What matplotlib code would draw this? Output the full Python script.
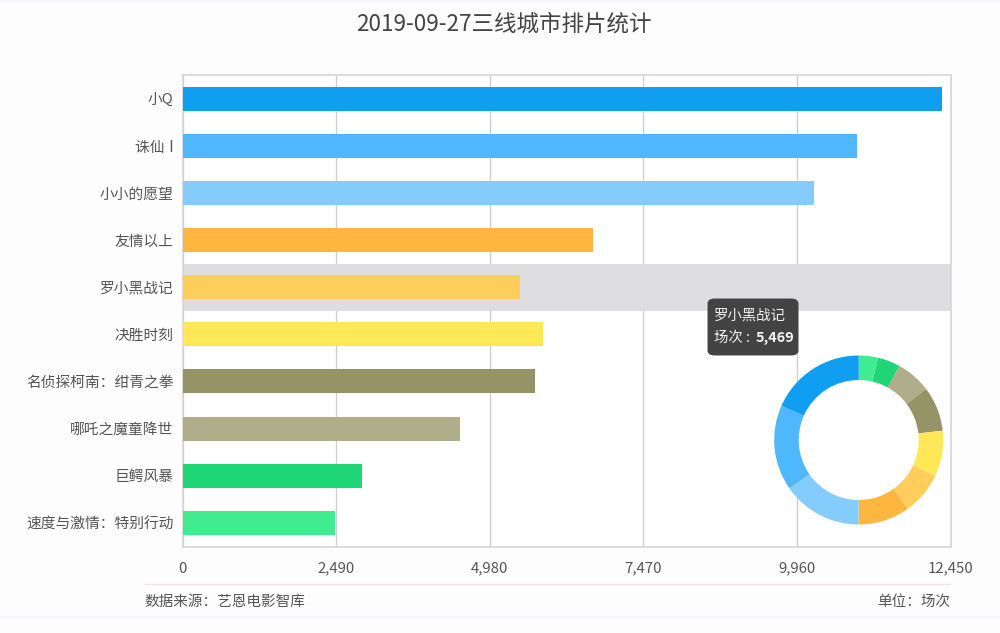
#!/usr/bin/env python3
import matplotlib
matplotlib.use("Agg")
import matplotlib.pyplot as plt
from matplotlib.lines import Line2D
from matplotlib.patches import FancyBboxPatch

plt.rcParams["font.family"] = ["Noto Sans CJK SC", "DejaVu Sans"]

W, H = 1000, 633

movies = ["小Q", "诛仙 Ⅰ", "小小的愿望", "友情以上", "罗小黑战记", "决胜时刻",
          "名侦探柯南：绀青之拳", "哪吒之魔童降世", "巨鳄风暴", "速度与激情：特别行动"]
shows = [12320, 10940, 10243, 6659, 5469, 5840, 5718, 4493, 2912, 2466]
colors = ["#109EF0", "#4FB7FB", "#84CCFB", "#FFB640", "#FFCD5C",
          "#FFE857", "#969366", "#AFAD8A", "#1FD676", "#41EB8F"]
xticks = [0, 2490, 4980, 7470, 9960, 12450]
hover_idx = 4

BG = "#FDFDFE"
TEXT = "#555555"


def fx(px):
    return px / W


def fy(py):
    return 1 - py / H


fig = plt.figure(figsize=(W / 100, H / 100), dpi=100, facecolor=BG)

# page edges
for py in (1, 617):
    fig.add_artist(Line2D([0, 1], [fy(py), fy(py)], color="#F5F5FA", lw=1.2))

ax = fig.add_axes([fx(182.5), fy(546.5), fx(768), (546.5 - 75) / H])
ax.set_facecolor("white")
ax.set_xlim(0, 12450)
ax.set_ylim(len(movies) - 0.5, -0.5)

ax.axhspan(hover_idx - 0.5, hover_idx + 0.5, color="#DEDEE0", zorder=1, lw=0)
ax.set_axisbelow(True)
ax.grid(axis="x", color="#CFCFCF", lw=1, zorder=0)
ax.barh(range(len(movies)), shows, height=0.51, color=colors, zorder=3)

ax.set_yticks(range(len(movies)))
ax.set_yticklabels(movies, fontsize=10.6, color=TEXT)
ax.get_yticklabels()[1].set_family(["DejaVu Sans", "Noto Sans CJK SC"])
ax.set_xticks(xticks)
ax.set_xticklabels([f"{v:,}" for v in xticks], fontsize=10.8, color=TEXT)
ax.tick_params(axis="both", length=0)
ax.tick_params(axis="y", pad=6.5)
ax.tick_params(axis="x", pad=11)
for s in ax.spines.values():
    s.set_color("#D6D6D8")
    s.set_linewidth(1.2)

# donut
r = 84.5
pie_ax = fig.add_axes([fx(858.7 - r), fy(440 + r), 2 * r / W, 2 * r / H])
pie_ax.pie(shows[::-1], colors=colors[::-1], startangle=90, counterclock=False,
           radius=1.0, wedgeprops={"width": 1 - 60 / r, "linewidth": 0})
pie_ax.set_xlim(-1, 1)
pie_ax.set_ylim(-1, 1)
pie_ax.patch.set_alpha(0)

# tooltip
tip = FancyBboxPatch((fx(711), fy(352)), fx(84), 50 / H,
                     boxstyle="round,pad=0,rounding_size=0.004",
                     mutation_aspect=H / W, transform=fig.transFigure,
                     fc="#434343", ec="#434343", lw=5, zorder=5)
fig.add_artist(tip)
fig.text(fx(714), fy(316), movies[hover_idx], fontsize=10.4, color="#F0F0F0",
         va="center", ha="left", zorder=6)
fig.text(fx(714), fy(338), "场次 :", fontsize=10.4, color="#F0F0F0",
         va="center", ha="left", zorder=6)
fig.text(fx(756), fy(338), f"{shows[hover_idx]:,}", fontsize=10.4, color="#F5F5F5",
         fontweight="bold", va="center", ha="left", zorder=6)

fig.text(0.504, fy(24), "2019-09-27三线城市排片统计", fontsize=16.2, color="#444444",
         ha="center", va="center")

fig.add_artist(Line2D([fx(145), fx(950)], [fy(583.5), fy(583.5)], color="#EEE6EC", lw=1))
fig.text(fx(144), fy(602), "数据来源：艺恩电影智库", fontsize=10.5, color=TEXT,
         ha="left", va="center")
fig.text(fx(950), fy(602), "单位：场次", fontsize=10.5, color=TEXT,
         ha="right", va="center")

fig.savefig("out.png", dpi=100, facecolor=fig.get_facecolor())
